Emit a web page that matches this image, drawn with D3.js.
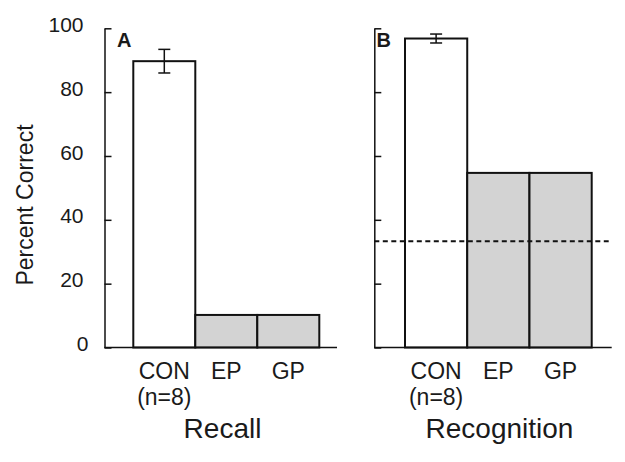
<!DOCTYPE html>
<html>
<head>
<meta charset="utf-8">
<script src="https://cdn.jsdelivr.net/npm/d3@7"></script>
<style>
  html, body { margin: 0; padding: 0; background: #fff; }
  svg { display: block; }
  text { font-family: "Liberation Sans", Arial, sans-serif; fill: #1a1a1a; }
</style>
</head>
<body>
<svg id="chart" width="625" height="462"></svg>
<script>
// ---- Data ----
const categories = ["CON", "EP", "GP"];
const categorySub = ["(n=8)", "", ""];
const recallValues = [89.7, 10.2, 10.2];
const recallErrors = [3.7, 0, 0];
const recognitionValues = [96.8, 54.7, 54.7];
const recognitionErrors = [1.4, 0, 0];
const chanceLevel = 33.3;
const yTickValues = [0, 20, 40, 60, 80, 100];
const panelLetters = ["A", "B"];
const panelTitles = ["Recall", "Recognition"];
const yTitle = "Percent Correct";

// ---- Layout ----
const svg = d3.select("#chart");
const y = d3.scaleLinear().domain([0, 100]).range([347.5, 28.3]);
const barFills = ["#ffffff", "#d3d3d3", "#d3d3d3"];

const panels = [
  { axisX: 104.5, lineEnd: 337, bars: [133.3, 319.3], values: recallValues, errors: recallErrors,
    showLabels: true, letterX: 117, letterY: 47.3, titleX: 222.5, chance: null },
  { axisX: 374.3, lineEnd: 611.7, bars: [405, 591.7], values: recognitionValues, errors: recognitionErrors,
    showLabels: false, letterX: 376.5, letterY: 46.7, titleX: 499.5, chance: chanceLevel }
];

panels.forEach((p, pi) => {
  const g = svg.append("g");
  const x = d3.scaleBand().domain(categories).range(p.bars).padding(0);

  // bars
  g.selectAll("rect.bar").data(categories).enter().append("rect")
    .attr("class", "bar")
    .attr("x", d => x(d))
    .attr("width", x.bandwidth())
    .attr("y", (d, i) => y(p.values[i]))
    .attr("height", (d, i) => y(0) - y(p.values[i]))
    .attr("fill", (d, i) => barFills[i])
    .attr("stroke", "#111")
    .attr("stroke-width", 2);

  // error bars
  categories.forEach((c, i) => {
    if (!p.errors[i]) return;
    const cx = x(c) + x.bandwidth() / 2;
    const hi = y(p.values[i] + p.errors[i]);
    const lo = y(p.values[i] - p.errors[i]);
    g.append("line").attr("x1", cx).attr("x2", cx).attr("y1", hi).attr("y2", lo)
      .attr("stroke", "#111").attr("stroke-width", 1.5);
    [hi, lo].forEach(yy => g.append("line").attr("x1", cx - 6).attr("x2", cx + 6)
      .attr("y1", yy).attr("y2", yy).attr("stroke", "#111").attr("stroke-width", 1.5));
  });

  // chance line
  if (p.chance !== null) {
    g.append("line")
      .attr("x1", p.axisX).attr("x2", p.lineEnd - 3)
      .attr("y1", y(p.chance)).attr("y2", y(p.chance))
      .attr("stroke", "#111").attr("stroke-width", 2)
      .attr("stroke-dasharray", "5,3.5");
  }

  // x baseline
  g.append("line").attr("x1", p.axisX).attr("x2", p.lineEnd)
    .attr("y1", y(0)).attr("y2", y(0))
    .attr("stroke", "#111").attr("stroke-width", 1.5);

  // y axis
  const axis = d3.axisLeft(y).tickValues(yTickValues)
    .tickSizeInner(-7).tickSizeOuter(0).tickPadding(21)
    .tickFormat(p.showLabels ? d3.format("d") : () => "");
  const ag = g.append("g").attr("transform", `translate(${p.axisX},0)`).call(axis);
  ag.select(".domain").attr("stroke", "#111").attr("stroke-width", 1.5);
  ag.selectAll(".tick line").attr("stroke", "#111").attr("stroke-width", 1.5);
  ag.selectAll(".tick text").attr("font-size", 21).attr("dy", "0.15em")
    .attr("font-family", "'Liberation Sans', Arial, sans-serif").attr("fill", "#1a1a1a");
  ag.select(".tick:first-of-type text").attr("dx", 5);

  // category labels
  categories.forEach((c, i) => {
    const cx = x(c) + x.bandwidth() / 2;
    g.append("text").attr("x", cx).attr("y", 379.3).attr("text-anchor", "middle")
      .attr("font-size", 23).text(c);
    if (categorySub[i]) {
      g.append("text").attr("x", cx).attr("y", 405).attr("text-anchor", "middle")
        .attr("font-size", 23).text(categorySub[i]);
    }
  });

  // panel title
  g.append("text").attr("x", p.titleX).attr("y", 438).attr("text-anchor", "middle")
    .attr("font-size", 28).text(panelTitles[pi]);

  // panel letter
  g.append("text").attr("x", p.letterX).attr("y", p.letterY)
    .attr("font-size", 20).attr("font-weight", "bold").text(panelLetters[pi]);
});

// y title
svg.append("text").attr("transform", "translate(33,205) rotate(-90)")
  .attr("text-anchor", "middle").attr("font-size", 23).text(yTitle);
</script>
</body>
</html>
